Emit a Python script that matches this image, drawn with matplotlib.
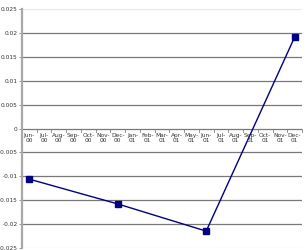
import matplotlib
matplotlib.use("Agg")
import matplotlib.pyplot as plt
import numpy as np

months = ["Jun-\n00", "Jul-\n00", "Aug-\n00", "Sep-\n00", "Oct-\n00", "Nov-\n00", "Dec-\n00",
          "Jan-\n01", "Feb-\n01", "Mar-\n01", "Apr-\n01", "May-\n01", "Jun-\n01", "Jul-\n01",
          "Aug-\n01", "Sep-\n01", "Oct-\n01", "Nov-\n01", "Dec-\n01"]
point_months = ["Jun-\n00", "Dec-\n00", "Jun-\n01", "Dec-\n01"]
values = [-0.0106, -0.0158, -0.0215, 0.0192]
yticks = [0.025, 0.02, 0.015, 0.01, 0.005, 0, -0.005, -0.01, -0.015, -0.02, -0.025]
ytick_labels = ["0.025", "0.02", "0.015", "0.01", "0.005", "0", "-0.005", "-0.01", "-0.015", "-0.02", "-0.025"]

fig = plt.figure(figsize=(3.07, 2.5), dpi=100)
ax = fig.add_axes([22/307, 2.2/250, 280/307, 238.3/250])

xpos = [months.index(m) for m in point_months]
ax.plot(xpos, values, color="#000080", lw=1.0, marker="s", ms=4.5, mfc="#000080", mec="#000080", zorder=3)

ax.set_xlim(-0.5, len(months) - 0.5)
ax.set_ylim(-0.025, 0.025)

for y in yticks:
    if y == 0 or abs(y) == 0.025:
        continue
    ax.axhline(y, color="#787878", lw=0.9, zorder=1)
ax.axhline(0.025, color="#e8e8e8", lw=0.9, zorder=1)
ax.axhline(-0.025, color="#e8e8e8", lw=0.9, zorder=1)

for s in ["top", "right", "bottom"]:
    ax.spines[s].set_visible(False)
ax.spines["left"].set_color("#a8a8a8")
ax.spines["left"].set_linewidth(1.6)

ax.set_yticks(yticks)
ax.set_yticklabels(ytick_labels, fontsize=4.2, color="#333333")
ax.tick_params(axis="y", length=2, width=0.6, color="#808080", pad=1)

# x axis at zero
ax.axhline(0, color="#787878", lw=0.9, zorder=2)
ax.set_xticks([])
for i in range(len(months) + 1):
    ax.plot([i - 0.5, i - 0.5], [0, -0.0006], color="#808080", lw=0.6, clip_on=False, zorder=2)
for i, m in enumerate(months):
    ax.text(i, -0.0009, m, ha="center", va="top", fontsize=4.2, color="#333333", linespacing=1.1)

fig.savefig("out.png", dpi=100)
